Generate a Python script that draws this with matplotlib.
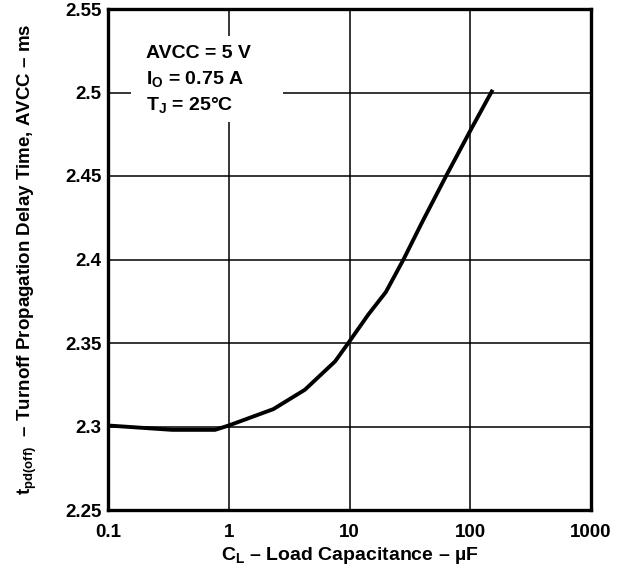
import matplotlib.pyplot as plt
import numpy as np

# curve
cap_uF = [0.1, 0.34, 0.77, 1.0, 2.34, 4.27, 7.6, 10.0, 14.3, 20.0, 27.9, 39.6, 63.8, 102.8, 150.6]
t_off_ms = [2.3006, 2.298, 2.298, 2.3006, 2.3104, 2.322, 2.339, 2.351, 2.367, 2.3805,
            2.3998, 2.4218, 2.4507, 2.4787, 2.5006]

xticks = [0.1, 1, 10, 100, 1000]
xtick_labels = ['0.1', '1', '10', '100', '1000']
yticks = [2.25, 2.3, 2.35, 2.4, 2.45, 2.5, 2.55]
ytick_labels = ['2.25', '2.3', '2.35', '2.4', '2.45', '2.5', '2.55']
cond_lines = ['AVCC = 5 V', '$\\mathregular{I_O}$ = 0.75 A', '$\\mathregular{T_J}$ = 25°C']

plt.rcParams['font.family'] = ['Liberation Sans', 'DejaVu Sans']
plt.rcParams['font.weight'] = 'bold'
plt.rcParams['mathtext.fontset'] = 'custom'
plt.rcParams['mathtext.rm'] = 'Liberation Sans:bold'
plt.rcParams['mathtext.it'] = 'Liberation Sans:bold'
plt.rcParams['mathtext.bf'] = 'Liberation Sans:bold'

fig = plt.figure(figsize=(6.43, 5.73), dpi=100)
ax = fig.add_axes([108/643, 1 - 510/573, (591-108)/643, (510-9)/573])

ax.set_xscale('log')
ax.set_xlim(0.1, 1000)
ax.set_ylim(2.25, 2.55)
ax.set_xticks(xticks)
ax.set_xticklabels(xtick_labels)
ax.set_yticks(yticks)
ax.set_yticklabels(ytick_labels)
ax.xaxis.set_minor_locator(plt.NullLocator())
ax.tick_params(axis='x', length=0, labelsize=13.5, pad=10)
ax.tick_params(axis='y', length=0, labelsize=13.5, pad=4.5)
for lab in ax.get_xticklabels() + ax.get_yticklabels():
    lab.set_fontweight('bold')

ax.grid(True, color='black', linewidth=1.1)
ax.set_axisbelow(True)
for s in ax.spines.values():
    s.set_linewidth(2.4)

ax.plot(cap_uF, t_off_ms, color='black', linewidth=2.8, solid_joinstyle='miter', zorder=3)

# white box behind the conditions text
ax.add_patch(plt.Rectangle(((131-108)/483, (510-122)/501), (283-131)/483, (122-36)/501,
                           transform=ax.transAxes, facecolor='white', edgecolor='none', zorder=2))
for line, ypx in zip(cond_lines, [58, 84, 110]):
    ax.text((146-108)/483, (510-ypx)/501, line, transform=ax.transAxes, fontsize=14,
            fontweight='bold', va='baseline', ha='left', zorder=4)

ax.set_xlabel('$\\mathregular{C_L}$ – Load Capacitance – µF', fontsize=14, fontweight='bold', labelpad=3)
ax.set_ylabel('$\\mathregular{t_{pd(off)}}$  – Turnoff Propagation Delay Time, AVCC – ms',
              fontsize=13.5, fontweight='bold', labelpad=19)

fig.savefig('out.png', dpi=100)
